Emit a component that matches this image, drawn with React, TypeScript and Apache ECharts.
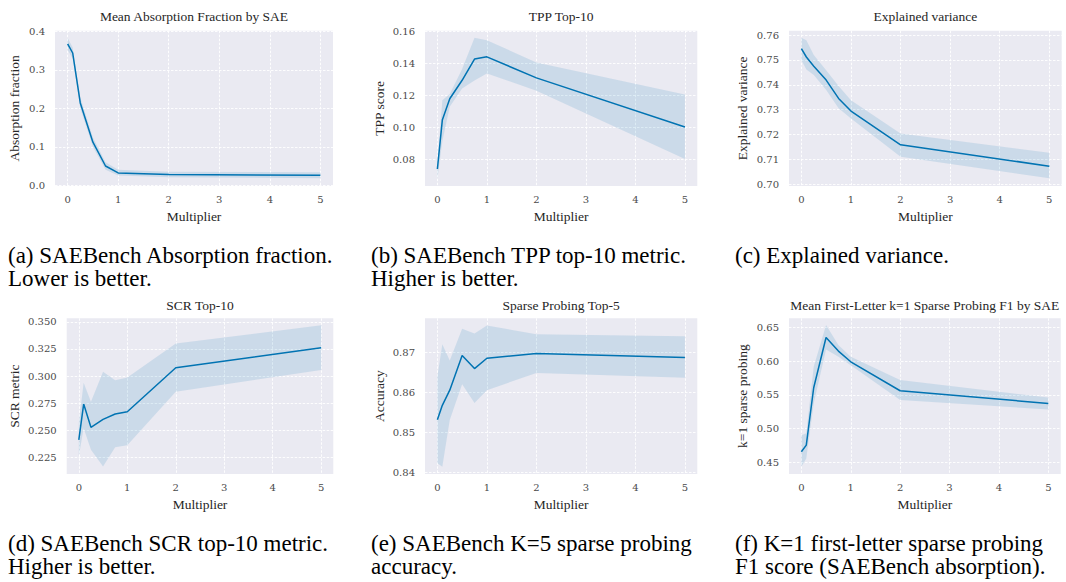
import React, { useEffect, useRef } from "react";
import * as echarts from "echarts";

// ---------- data ----------
const multipliers = [0, 0.1, 0.25, 0.5, 0.75, 1, 2, 5];
const xTicks = [0, 1, 2, 3, 4, 5];

const absorptionMean = [0.368, 0.344, 0.214, 0.112, 0.05, 0.032, 0.028, 0.026];
const absorptionLow = [0.352, 0.33, 0.2, 0.1, 0.04, 0.025, 0.021, 0.018];
const absorptionHigh = [0.383, 0.358, 0.228, 0.124, 0.06, 0.04, 0.035, 0.034];
const absorptionTicks = [0.0, 0.1, 0.2, 0.3, 0.4];

const tppMean = [0.0742, 0.1047, 0.118, 0.1295, 0.1427, 0.1441, 0.131, 0.1004];
const tppLow = [0.068, 0.0914, 0.113, 0.1243, 0.1293, 0.1338, 0.1229, 0.0804];
const tppHigh = [0.077, 0.117, 0.121, 0.1365, 0.156, 0.1545, 0.1406, 0.1206];
const tppTicks = [0.08, 0.1, 0.12, 0.14, 0.16];

const varianceMean = [0.7546, 0.7512, 0.7475, 0.7419, 0.7345, 0.7294, 0.7158, 0.7072];
const varianceLow = [0.7499, 0.7462, 0.7439, 0.7379, 0.7305, 0.7264, 0.711, 0.7023];
const varianceHigh = [0.759, 0.758, 0.752, 0.7459, 0.7395, 0.7338, 0.7204, 0.7126];
const varianceTicks = [0.7, 0.71, 0.72, 0.73, 0.74, 0.75, 0.76];

const scrMean = [0.241, 0.2741, 0.2526, 0.26, 0.2649, 0.267, 0.3076, 0.326];
const scrLow = [0.226, 0.2517, 0.2318, 0.2164, 0.2342, 0.236, 0.2855, 0.3055];
const scrHigh = [0.257, 0.2938, 0.2763, 0.304, 0.2962, 0.2987, 0.33, 0.3469];
const scrTicks = [0.225, 0.25, 0.275, 0.3, 0.325, 0.35];

const probeMean = [0.8532, 0.8568, 0.8606, 0.8693, 0.866, 0.8686, 0.8698, 0.8688];
const probeLow = [0.8423, 0.8414, 0.8531, 0.8621, 0.8574, 0.8606, 0.8649, 0.8637];
const probeHigh = [0.864, 0.8721, 0.868, 0.876, 0.8748, 0.8768, 0.8746, 0.8741];
const probeTicks = [0.84, 0.85, 0.86, 0.87];

const letterMean = [0.4653, 0.4752, 0.5604, 0.6351, 0.6149, 0.599, 0.556, 0.5371];
const letterLow = [0.443, 0.4554, 0.5371, 0.6173, 0.6064, 0.594, 0.5421, 0.5282];
const letterHigh = [0.49, 0.493, 0.5916, 0.6535, 0.6238, 0.6064, 0.5718, 0.546];
const letterTicks = [0.45, 0.5, 0.55, 0.6, 0.65];

const titles = [
  "Mean Absorption Fraction by SAE",
  "TPP Top-10",
  "Explained variance",
  "SCR Top-10",
  "Sparse Probing Top-5",
  "Mean First-Letter k=1 Sparse Probing F1 by SAE",
];
const yNames = [
  "Absorption fraction",
  "TPP score",
  "Explained variance",
  "SCR metric",
  "Accuracy",
  "k=1 sparse probing",
];
const xName = "Multiplier";
const captions = [
  ["(a) SAEBench Absorption fraction.", "Lower is better."],
  ["(b) SAEBench TPP top-10 metric.", "Higher is better."],
  ["(c) Explained variance."],
  ["(d) SAEBench SCR top-10 metric.", "Higher is better."],
  ["(e) SAEBench K=5 sparse probing", "accuracy."],
  ["(f) K=1 first-letter sparse probing", "F1 score (SAEBench absorption)."],
];

// ---------- layout / style ----------
const panels = [
  { mean: absorptionMean, low: absorptionLow, high: absorptionHigh, ticks: absorptionTicks, dec: 1, yMin: -0.002, yMax: 0.402, left: 55, top: 30.7, width: 278, height: 155.3, gap: 33.5 },
  { mean: tppMean, low: tppLow, high: tppHigh, ticks: tppTicks, dec: 2, yMin: 0.0636, yMax: 0.1604, left: 425, top: 30.7, width: 272.3, height: 155.3, gap: 38.5 },
  { mean: varianceMean, low: varianceLow, high: varianceHigh, ticks: varianceTicks, dec: 2, yMin: 0.6992, yMax: 0.7618, left: 789, top: 30.7, width: 272.7, height: 155.3, gap: 39.5 },
  { mean: scrMean, low: scrLow, high: scrHigh, ticks: scrTicks, dec: 3, yMin: 0.2095, yMax: 0.3533, left: 66.7, top: 318.3, width: 266.6, height: 155.7, gap: 45 },
  { mean: probeMean, low: probeLow, high: probeHigh, ticks: probeTicks, dec: 2, yMin: 0.8396, yMax: 0.8786, left: 425, top: 318.3, width: 272.3, height: 155.7, gap: 38.5 },
  { mean: letterMean, low: letterLow, high: letterHigh, ticks: letterTicks, dec: 2, yMin: 0.4323, yMax: 0.6636, left: 789, top: 318.3, width: 271.7, height: 155.7, gap: 39.5 },
];

const captionX = [8, 371, 735, 8, 371, 735];
const captionY = [255, 255, 255, 543, 543, 543];
const titleY = [16, 16, 16, 305, 305, 305];

const LINE = "#0173B2";
const BAND = "rgba(1,115,178,0.13)";
const BG = "#EAEAF2";
const SERIF = "'Liberation Serif', 'Times New Roman', serif";
const TICKFONT = "'DejaVu Serif', serif";

function buildOption() {
  const grid: any[] = [];
  const xAxis: any[] = [];
  const yAxis: any[] = [];
  const series: any[] = [];
  const graphic: any[] = [];

  panels.forEach((p, i) => {
    grid.push({
      left: p.left,
      top: p.top,
      width: p.width,
      height: p.height,
      show: true,
      backgroundColor: BG,
      borderWidth: 0,
      containLabel: false,
    });
    const splitLine = { show: true, lineStyle: { color: "#ffffff", width: 0.9, type: [2.5, 1.5] } };
    xAxis.push({
      type: "value",
      gridIndex: i,
      min: -0.25,
      max: 5.25,
      axisLine: { show: false },
      axisTick: { show: false, customValues: xTicks },
      axisLabel: {
        customValues: xTicks,
        margin: 8,
        fontFamily: TICKFONT,
        fontSize: 10,
        color: "#4a4a4a",
        formatter: (v: number) => String(Math.round(v)),
      },
      splitLine,
      name: xName,
      nameLocation: "middle",
      nameGap: 23,
      nameTextStyle: { fontFamily: SERIF, fontSize: 13.5, color: "#262626" },
    });
    yAxis.push({
      type: "value",
      gridIndex: i,
      min: p.yMin,
      max: p.yMax,
      axisLine: { show: false },
      axisTick: { show: false, customValues: p.ticks },
      axisLabel: {
        customValues: p.ticks,
        margin: 10,
        fontFamily: TICKFONT,
        fontSize: 10,
        color: "#4a4a4a",
        formatter: (v: number) => v.toFixed(p.dec),
      },
      splitLine,
      name: yNames[i],
      nameLocation: "middle",
      nameGap: p.gap,
      nameTextStyle: { fontFamily: SERIF, fontSize: 13.5, color: "#262626" },
    });

    const xs = multipliers;
    const lo = p.low;
    const hi = p.high;
    series.push({
      type: "custom",
      xAxisIndex: i,
      yAxisIndex: i,
      silent: true,
      z: 1,
      data: [[xs[0], hi[0]]],
      renderItem: (params: any, api: any) => {
        const pts: number[][] = [];
        for (let k = 0; k < xs.length; k++) pts.push(api.coord([xs[k], hi[k]]));
        for (let k = xs.length - 1; k >= 0; k--) pts.push(api.coord([xs[k], lo[k]]));
        return { type: "polygon", shape: { points: pts }, style: { fill: BAND, stroke: null } };
      },
    });
    series.push({
      type: "line",
      xAxisIndex: i,
      yAxisIndex: i,
      z: 3,
      symbol: "none",
      silent: true,
      lineStyle: { color: LINE, width: 1.5 },
      data: xs.map((x, k) => [x, p.mean[k]]),
    });

    graphic.push({
      type: "text",
      x: p.left + p.width / 2,
      y: titleY[i],
      style: {
        text: titles[i],
        fontFamily: SERIF,
        fontSize: 13.5,
        fill: "#262626",
        align: "center",
        textAlign: "center",
        verticalAlign: "middle",
        textVerticalAlign: "middle",
      },
    });
    captions[i].forEach((line, j) => {
      graphic.push({
        type: "text",
        x: captionX[i],
        y: captionY[i] + j * 23,
        style: {
          text: line,
          fontFamily: SERIF,
          fontSize: 23,
          fill: "#000000",
          align: "left",
          textAlign: "left",
          verticalAlign: "middle",
          textVerticalAlign: "middle",
        },
      });
    });
  });

  return {
    animation: false,
    backgroundColor: "#ffffff",
    grid,
    xAxis,
    yAxis,
    series,
    graphic,
  };
}

export default function App() {
  const ref = useRef<HTMLDivElement>(null);
  useEffect(() => {
    if (!ref.current) return;
    const chart = echarts.init(ref.current, undefined, { renderer: "svg" });
    chart.setOption(buildOption() as any);
    return () => chart.dispose();
  }, []);
  return (
    <div
      ref={ref}
      style={{ position: "fixed", left: 0, top: 0, width: 1066, height: 582, background: "#fff" }}
    />
  );
}
